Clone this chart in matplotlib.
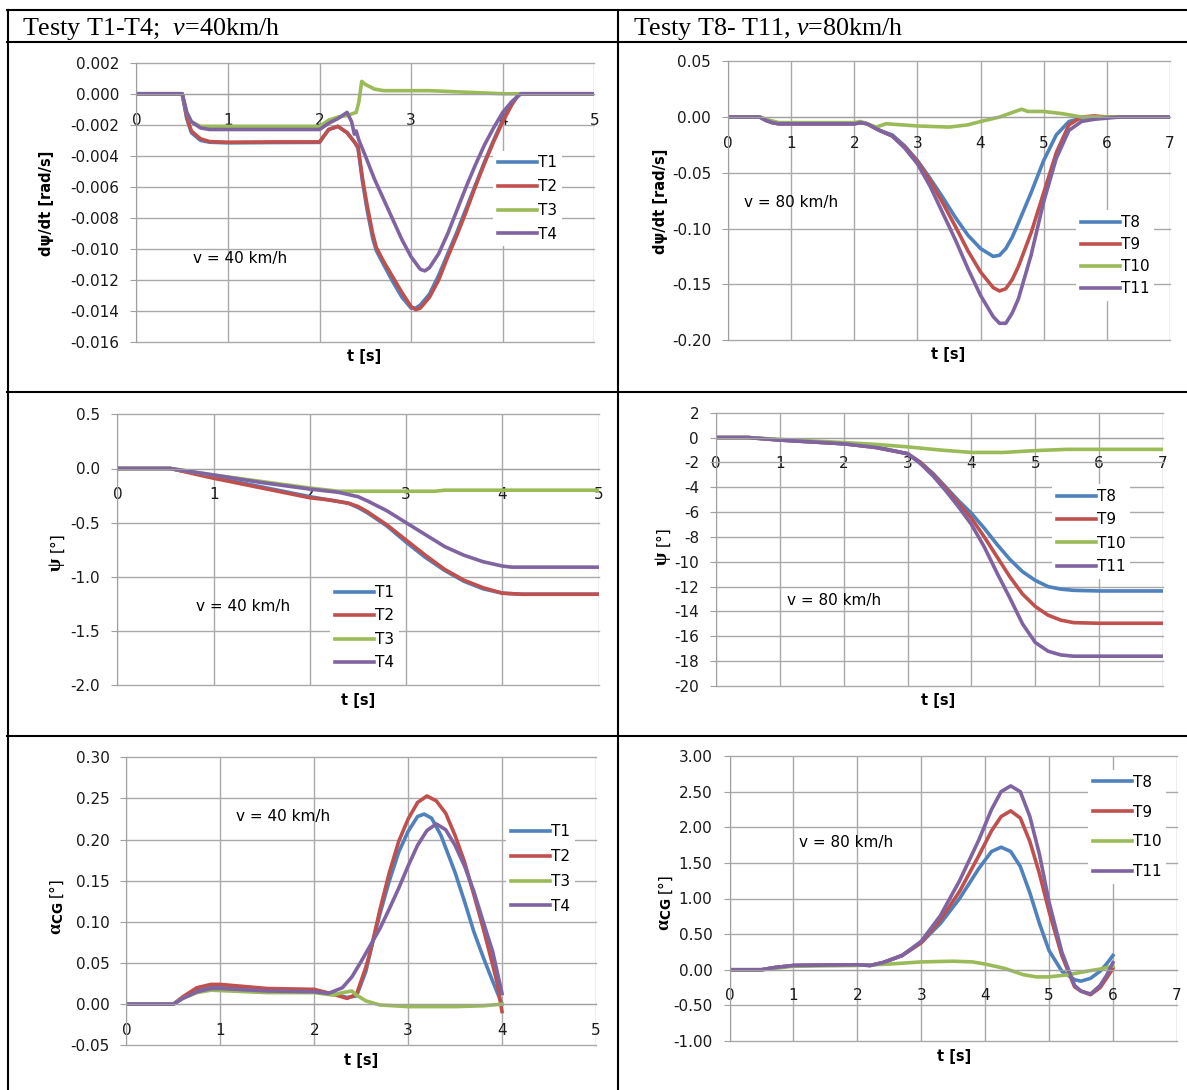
import numpy as np
import matplotlib
matplotlib.use('Agg')
import matplotlib.pyplot as plt
from matplotlib.lines import Line2D
from matplotlib.ticker import FormatStrFormatter

# Fuentes
plt.rcParams['font.family'] = ['DejaVu Sans']
plt.rcParams['mathtext.fontset'] = 'custom'
plt.rcParams['mathtext.rm'] = 'Liberation Serif'
plt.rcParams['mathtext.it'] = 'Liberation Serif:italic'
plt.rcParams['mathtext.bf'] = 'Liberation Serif:bold'
plt.rcParams['mathtext.sf'] = 'DejaVu Sans:bold'

# ---------------- Datos ----------------
# dpsi/dt, v = 40 km/h
t_a12 = [0, 0.5, 0.55, 0.6, 0.7, 0.8, 1.0, 1.5, 2.0, 2.05, 2.1, 2.2, 2.3, 2.38, 2.42, 2.47, 2.52, 2.58, 2.62,
         2.7, 2.8, 2.9, 3.0, 3.05, 3.1, 3.2, 3.3, 3.4, 3.5, 3.6, 3.7, 3.8, 3.9, 4.0, 4.1, 4.18, 4.5, 5.0]
a_T1 = [0, 0, -0.0016, -0.0025, -0.0030, -0.00312, -0.00316, -0.00314, -0.00313, -0.0027, -0.0023, -0.0021,
        -0.0025, -0.0031, -0.0035, -0.0057, -0.0075, -0.0093, -0.0101, -0.0110, -0.0121, -0.0131, -0.0138,
        -0.0138, -0.0136, -0.0129, -0.0117, -0.0103, -0.0089, -0.0074, -0.0059, -0.0044, -0.0030, -0.0017,
        -0.0006, 0, 0, 0]
a_T2 = [0, 0, -0.0015, -0.0024, -0.0029, -0.00308, -0.00312, -0.0031, -0.0031, -0.0027, -0.0023, -0.0021,
        -0.0025, -0.0031, -0.0034, -0.0055, -0.0072, -0.0090, -0.0099, -0.0108, -0.0118, -0.0128, -0.0137,
        -0.0139, -0.0138, -0.0131, -0.0120, -0.0105, -0.0091, -0.0076, -0.0060, -0.0045, -0.0031, -0.0018,
        -0.0007, 0, 0, 0]
t_a3 = [0, 0.5, 0.55, 0.6, 0.7, 0.8, 2.0, 2.1, 2.2, 2.3, 2.4, 2.43, 2.46, 2.5, 2.6, 2.7, 3.0, 3.2, 3.6, 4.0, 5.0]
a_T3 = [0, 0, -0.0012, -0.0018, -0.0021, -0.0021, -0.0021, -0.0017, -0.0015, -0.0014, -0.0012, -0.0005,
        0.0008, 0.0006, 0.0003, 0.0002, 0.0002, 0.0002, 0.0001, 0.0, 0.0]
t_a4 = [0, 0.5, 0.55, 0.6, 0.7, 0.8, 2.0, 2.05, 2.1, 2.2, 2.3, 2.35, 2.38, 2.40, 2.43, 2.5, 2.6, 2.7, 2.8,
        2.9, 3.0, 3.1, 3.15, 3.2, 3.3, 3.4, 3.5, 3.6, 3.7, 3.8, 3.9, 4.0, 4.1, 4.2, 5.0]
a_T4 = [0, 0, -0.0012, -0.0018, -0.0022, -0.0023, -0.0023, -0.0021, -0.0019, -0.0016, -0.0012, -0.0018,
        -0.0026, -0.0024, -0.0030, -0.0040, -0.0055, -0.0068, -0.0081, -0.0094, -0.0105, -0.0113, -0.0114,
        -0.0112, -0.0103, -0.0090, -0.0075, -0.0060, -0.0046, -0.0033, -0.0022, -0.0012, -0.0005, 0.0, 0.0]

# dpsi/dt, v = 80 km/h
t_b = [0, 0.5, 0.6, 0.7, 0.8, 2.0, 2.1, 2.2, 2.3, 2.4, 2.6, 2.8, 3.0, 3.2, 3.4, 3.6, 3.8, 4.0, 4.2, 4.3,
       4.4, 4.5, 4.6, 4.8, 5.0, 5.2, 5.4, 5.6, 5.8, 6.0, 6.2, 7.0]
b_T8 = [0, 0, -0.003, -0.005, -0.006, -0.006, -0.005, -0.006, -0.009, -0.012, -0.016, -0.026, -0.039,
        -0.055, -0.072, -0.090, -0.106, -0.118, -0.125, -0.124, -0.118, -0.108, -0.095, -0.068, -0.039,
        -0.016, -0.004, -0.001, 0, 0, 0, 0]
b_T9 = [0, 0, -0.003, -0.005, -0.006, -0.006, -0.005, -0.006, -0.009, -0.012, -0.017, -0.027, -0.040,
        -0.057, -0.077, -0.098, -0.120, -0.139, -0.153, -0.156, -0.154, -0.146, -0.134, -0.104, -0.068,
        -0.032, -0.007, 0.0, 0.001, 0, 0, 0]
b_T11 = [0, 0, -0.003, -0.005, -0.006, -0.006, -0.005, -0.006, -0.009, -0.012, -0.017, -0.028, -0.042,
         -0.062, -0.086, -0.110, -0.136, -0.160, -0.179, -0.185, -0.185, -0.176, -0.163, -0.124, -0.076,
         -0.037, -0.012, -0.004, -0.002, -0.001, 0, 0]
t_b10 = [0, 0.5, 0.6, 0.8, 2.0, 2.1, 2.2, 2.35, 2.5, 3.0, 3.5, 3.8, 4.0, 4.3, 4.5, 4.65, 4.75, 5.0, 5.3, 5.6, 7.0]
b_T10 = [0, 0, -0.002, -0.005, -0.005, -0.004, -0.006, -0.009, -0.006, -0.008, -0.009, -0.007, -0.004,
         0.0, 0.004, 0.007, 0.005, 0.005, 0.003, 0.0, 0.0]

# psi, v = 40 km/h
t_c = [0, 0.55, 1.0, 1.5, 2.0, 2.2, 2.4, 2.5, 2.6, 2.8, 3.0, 3.2, 3.4, 3.6, 3.8, 4.0, 4.2, 5.0]
c_T1 = [0, 0, -0.08, -0.17, -0.26, -0.29, -0.32, -0.36, -0.41, -0.53, -0.68, -0.82, -0.94, -1.04, -1.11,
        -1.15, -1.16, -1.16]
c_T2 = [0, 0, -0.09, -0.18, -0.27, -0.29, -0.32, -0.35, -0.40, -0.52, -0.66, -0.80, -0.93, -1.03, -1.10,
        -1.15, -1.16, -1.16]
t_c3 = [0, 0.55, 1.0, 1.5, 2.0, 2.3, 2.5, 3.3, 3.4, 5.0]
c_T3 = [0, 0, -0.06, -0.12, -0.18, -0.21, -0.21, -0.21, -0.20, -0.20]
t_c4 = [0, 0.55, 1.0, 1.5, 2.0, 2.3, 2.5, 2.6, 2.8, 3.0, 3.2, 3.4, 3.6, 3.8, 4.0, 4.1, 5.0]
c_T4 = [0, 0, -0.06, -0.13, -0.19, -0.22, -0.26, -0.30, -0.39, -0.50, -0.61, -0.72, -0.80, -0.86, -0.90,
        -0.91, -0.91]

# psi, v = 80 km/h
t_d = [0, 0.5, 1.0, 1.5, 2.0, 2.5, 3.0, 3.2, 3.4, 3.6, 3.8, 4.0, 4.2, 4.4, 4.6, 4.8, 5.0, 5.2, 5.4, 5.6, 6.0, 7.0]
d_T8 = [0, 0, -0.2, -0.35, -0.5, -0.75, -1.3, -2.0, -2.9, -4.0, -5.1, -6.1, -7.3, -8.6, -9.8, -10.8,
        -11.5, -12.0, -12.2, -12.3, -12.35, -12.35]
d_T9 = [0, 0, -0.2, -0.35, -0.5, -0.8, -1.3, -2.0, -3.0, -4.1, -5.3, -6.5, -8.0, -9.6, -11.2, -12.6,
        -13.6, -14.3, -14.7, -14.9, -14.95, -14.95]
d_T11 = [0, 0, -0.2, -0.35, -0.5, -0.8, -1.3, -2.1, -3.1, -4.3, -5.6, -7.0, -8.8, -10.9, -12.9, -15.0,
         -16.5, -17.2, -17.5, -17.6, -17.6, -17.6]
t_d10 = [0, 0.5, 1.0, 2.0, 2.5, 3.0, 3.5, 4.0, 4.5, 5.0, 5.5, 7.0]
d_T10 = [0, 0, -0.15, -0.4, -0.55, -0.75, -1.0, -1.2, -1.2, -1.05, -0.95, -0.95]

# alfa_CG, v = 40 km/h
t_e1 = [0, 0.5, 0.6, 0.75, 0.9, 1.0, 1.5, 2.0, 2.2, 2.35, 2.45, 2.55, 2.6, 2.7, 2.8, 2.9, 3.0, 3.1, 3.17,
        3.25, 3.35, 3.5, 3.6, 3.7, 3.8, 3.9, 4.0]
e_T1 = [0, 0, 0.008, 0.017, 0.020, 0.020, 0.017, 0.016, 0.013, 0.008, 0.010, 0.040, 0.065, 0.110, 0.150,
        0.185, 0.210, 0.228, 0.231, 0.226, 0.205, 0.160, 0.125, 0.088, 0.057, 0.028, 0.0]
t_e2 = [0, 0.5, 0.6, 0.75, 0.9, 1.0, 1.5, 2.0, 2.2, 2.35, 2.45, 2.55, 2.6, 2.7, 2.8, 2.9, 3.0, 3.1, 3.2,
        3.3, 3.4, 3.5, 3.6, 3.7, 3.8, 3.9, 3.95, 4.0]
e_T2 = [0, 0, 0.009, 0.020, 0.024, 0.024, 0.019, 0.018, 0.012, 0.007, 0.012, 0.045, 0.065, 0.115, 0.160,
        0.198, 0.225, 0.245, 0.253, 0.247, 0.232, 0.205, 0.173, 0.133, 0.092, 0.048, 0.025, -0.009]
t_e3 = [0, 0.5, 0.6, 0.75, 0.9, 1.5, 2.0, 2.2, 2.3, 2.4, 2.45, 2.55, 2.7, 3.0, 3.5, 3.8, 4.0]
e_T3 = [0, 0, 0.007, 0.014, 0.017, 0.014, 0.014, 0.011, 0.014, 0.016, 0.011, 0.004, -0.001, -0.003, -0.003,
        -0.002, 0.0]
t_e4 = [0, 0.5, 0.6, 0.75, 0.9, 1.0, 1.5, 2.0, 2.15, 2.3, 2.4, 2.5, 2.6, 2.7, 2.8, 2.9, 3.0, 3.1, 3.2,
        3.3, 3.4, 3.5, 3.6, 3.7, 3.8, 3.9, 4.0]
e_T4 = [0, 0, 0.007, 0.015, 0.019, 0.019, 0.016, 0.015, 0.013, 0.020, 0.033, 0.052, 0.072, 0.092, 0.116,
        0.141, 0.168, 0.193, 0.211, 0.219, 0.212, 0.193, 0.168, 0.137, 0.100, 0.064, 0.013]

# alfa_CG, v = 80 km/h
t_f = [0, 0.5, 0.7, 1.0, 2.0, 2.2, 2.4, 2.7, 3.0, 3.3, 3.6, 3.9, 4.1, 4.25, 4.4, 4.55, 4.7, 4.85, 5.0,
       5.2, 5.4, 5.5, 5.65, 5.8, 5.9, 6.0]
f_T8 = [0, 0, 0.03, 0.06, 0.07, 0.06, 0.10, 0.20, 0.38, 0.65, 1.00, 1.42, 1.66, 1.72, 1.66, 1.45, 1.08,
        0.65, 0.27, -0.02, -0.14, -0.16, -0.12, -0.02, 0.08, 0.20]
f_T9 = [0, 0, 0.03, 0.06, 0.07, 0.06, 0.10, 0.20, 0.38, 0.70, 1.10, 1.60, 1.95, 2.15, 2.23, 2.13, 1.80,
        1.35, 0.82, 0.20, -0.24, -0.30, -0.35, -0.25, -0.12, 0.02]
f_T11 = [0, 0, 0.03, 0.06, 0.07, 0.06, 0.10, 0.20, 0.40, 0.76, 1.25, 1.82, 2.25, 2.50, 2.58, 2.50, 2.15,
         1.62, 0.95, 0.25, -0.22, -0.30, -0.34, -0.22, -0.08, 0.10]
t_f10 = [0, 0.5, 1.0, 2.0, 2.5, 3.0, 3.5, 3.8, 4.0, 4.3, 4.6, 4.8, 5.0, 5.3, 5.6, 5.8, 6.0]
f_T10 = [0, 0, 0.05, 0.06, 0.08, 0.11, 0.12, 0.11, 0.08, 0.02, -0.07, -0.10, -0.10, -0.07, -0.02, 0.01, 0.05]

colores = ['#4F81BD', '#C0504D', '#9BBB59', '#8064A2']

W, H = 1187, 1090
fig = plt.figure(figsize=(W / 100, H / 100), dpi=100)
fig.patch.set_facecolor('white')


def fx(x):
    return x / W


def fy(y):
    return 1 - y / H


def panel(caja, xmax, ymin, ymax, paso, fmt, series, nombres, ylab,
          nota, nota_pos, leg_pos, leg_esp, xlab_pos):
    x0, y0, x1, y1 = caja
    ax = fig.add_axes([fx(x0), fy(y1), (x1 - x0) / W, (y1 - y0) / H])
    ax.set_xlim(0, xmax)
    ax.set_ylim(ymin, ymax)
    ax.set_xticks(range(xmax + 1))
    n = int(round((ymax - ymin) / paso))
    ax.set_yticks([ymin + i * paso for i in range(n + 1)])
    ax.yaxis.set_major_formatter(FormatStrFormatter(fmt))
    ax.grid(True, color='#a9a9a9', lw=1.0)
    ax.set_axisbelow(True)
    for g in ax.get_xgridlines() + ax.get_ygridlines():
        g.set_clip_on(False)
    ax.spines['top'].set_visible(False)
    ax.spines['right'].set_visible(False)
    ax.spines['left'].set_color('#a0a0a0')
    ax.spines['bottom'].set_color('#a0a0a0')
    ax.spines['bottom'].set_position(('data', 0))
    ax.tick_params(axis='x', length=0, pad=13.5, labelsize=11, labelcolor='#1a1a1a')
    ax.tick_params(axis='y', length=4.3, direction='out', color='#a0a0a0', pad=8,
                   labelsize=11, labelcolor='#1a1a1a')

    for (t, y), c, nom in zip(series, colores, nombres):
        ax.plot(t, y, color=c, lw=2.6, label=nom, solid_joinstyle='round')

    ax.legend(loc='center left', bbox_to_anchor=(fx(leg_pos[0]), fy(leg_pos[1])),
              bbox_transform=fig.transFigure, frameon=True, fancybox=False,
              edgecolor='none', facecolor='white', framealpha=1, fontsize=11,
              handlelength=2.6, handletextpad=0.05, labelspacing=leg_esp,
              borderpad=0.3, borderaxespad=0)

    fig.text(fx(nota_pos[0]), fy(nota_pos[1]), nota, ha='center', va='center', fontsize=11)
    fig.text(fx(xlab_pos[0]), fy(xlab_pos[1]), 't [s]', ha='center', va='center',
             fontsize=10.5, weight='bold')
    # etiqueta eje y: (texto, x, y, alineacion, tamano, negrita)
    for txt, x, y, va, sz, bold in ylab:
        fig.text(fx(x), fy(y), txt, ha='center', va=va, fontsize=sz,
                 weight='bold' if bold else 'normal', rotation=90)
    return ax


T14 = ['T1', 'T2', 'T3', 'T4']
T811 = ['T8', 'T9', 'T10', 'T11']
psi = r'$\mathbf{\psi}$'
alfa = r'$\mathbf{\alpha}_{\mathsf{CG}}$'

panel((136.4, 62.7, 594.3, 342.3), 5, -0.016, 0.002, 0.002, '%.3f',
      [(t_a12, a_T1), (t_a12, a_T2), (t_a3, a_T3), (t_a4, a_T4)], T14,
      [('dψ/dt [rad/s]', 47, 203, 'center', 10.5, True)],
      'v = 40 km/h', (240, 258), (493, 198.5), 0.58, (364, 357))

panel((728.1, 61.3, 1169.9, 340), 7, -0.20, 0.05, 0.05, '%.2f',
      [(t_b, b_T8), (t_b, b_T9), (t_b10, b_T10), (t_b, b_T11)], T811,
      [('dψ/dt [rad/s]', 661, 201, 'center', 10.5, True)],
      'v = 80 km/h', (791, 202), (1076, 255.5), 0.46, (948, 355))

panel((117.4, 414.3, 598.6, 685.3), 5, -2.0, 0.5, 0.5, '%.1f',
      [(t_c, c_T1), (t_c, c_T2), (t_c3, c_T3), (t_c4, c_T4)], T14,
      [(psi, 57, 557, 'top', 14, True), ('[°]', 57, 552, 'bottom', 11, False)],
      'v = 40 km/h', (243, 607), (330, 627.7), 0.55, (358, 700))

panel((716.1, 412.7, 1163, 686), 7, -20, 2, 2, '%d',
      [(t_d, d_T8), (t_d, d_T9), (t_d10, d_T10), (t_d, d_T11)], T811,
      [(psi, 663, 551, 'top', 14, True), ('[°]', 663, 546, 'bottom', 11, False)],
      'v = 80 km/h', (834, 601), (1052, 531.5), 0.55, (938, 701))

panel((126.5, 757.3, 595.9, 1045.3), 5, -0.05, 0.30, 0.05, '%.2f',
      [(t_e1, e_T1), (t_e2, e_T2), (t_e3, e_T3), (t_e4, e_T4)], T14,
      [(alfa, 56, 902, 'top', 14, True), ('[°]', 56, 897, 'bottom', 11, False)],
      'v = 40 km/h', (283.5, 817), (506, 869), 0.64, (361, 1061))

panel((729.6, 756, 1176.8, 1041), 7, -1.0, 3.0, 0.5, '%.2f',
      [(t_f, f_T8), (t_f, f_T9), (t_f10, f_T10), (t_f, f_T11)], T811,
      [(alfa, 665, 898, 'top', 14, True), ('[°]', 665, 893, 'bottom', 11, False)],
      'v = 80 km/h', (846, 842), (1088, 827), 0.97, (954, 1056))

# Tabla
for y in [10, 42, 392, 736]:
    fig.add_artist(Line2D([fx(7), fx(W)], [fy(y), fy(y)], color='black', lw=1.5))
for x in [7.5, 618]:
    fig.add_artist(Line2D([fx(x), fx(x)], [fy(10), fy(H)], color='black', lw=1.5))

# Encabezados
fig.text(fx(22), fy(35), r'Testy T1-T4;  $v$=40km/h', family='Liberation Serif', fontsize=18.7,
         va='baseline')
fig.text(fx(633), fy(35), r'Testy T8- T11, $v$=80km/h', family='Liberation Serif', fontsize=18.7,
         va='baseline')

fig.savefig('out.png', dpi=100)
